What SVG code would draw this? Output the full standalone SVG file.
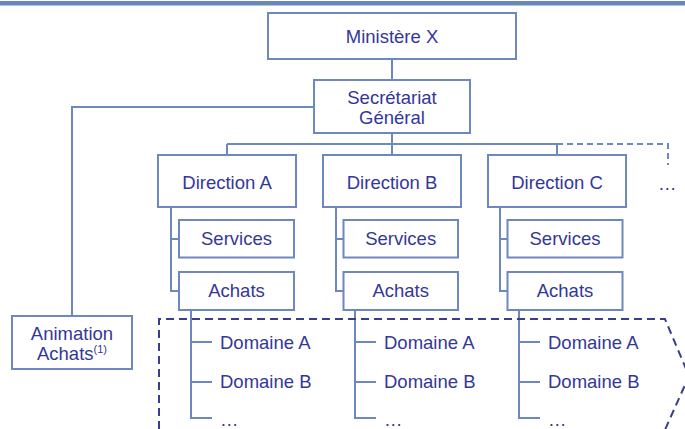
<svg xmlns="http://www.w3.org/2000/svg" width="685" height="429" viewBox="0 0 685 429">
<style>
.box{fill:#fff;stroke:#6D88BF;stroke-width:2}
.ln{fill:none;stroke:#6D88BF;stroke-width:2}
.dl{fill:none;stroke:#6D88BF;stroke-width:2;stroke-dasharray:6 4}
.enc{fill:none;stroke:#3A3D8E;stroke-width:2;stroke-dasharray:8 5}
text{font-family:"Liberation Sans",Arial,sans-serif;font-size:18.5px;fill:#34379A}
.c{text-anchor:middle}
</style>
<rect x="0" y="1" width="685" height="4.5" fill="#6A86BA"/>
<g id="connectors">
<path class="ln" d="M392 59V80M392 133V144M227 144H557M227 144V155M392 144V155M557 144V155"/>
<path class="dl" d="M557 144H668V165"/>
<path class="ln" d="M314 107H72V316"/>
<path class="ln" d="M171 207V291H179M171 239H179"/>
<path class="ln" d="M336 207V291H343.5M336 239H343.5"/>
<path class="ln" d="M500 207V291H507.5M500 239H507.5"/>
<path class="ln" d="M191 310V418H212M191 342H212M191 382H212"/>
<path class="ln" d="M355 310V418H376M355 342H376M355 382H376"/>
<path class="ln" d="M519 310V418H540M519 342H540M519 382H540"/>
<path class="enc" d="M159 429V319H665L689 376L664 432"/>
</g>
<g id="ministere"><rect class="box" x="268" y="13" width="248" height="46"/><text class="c" x="392" y="42.5">Ministère X</text></g>
<g id="sg"><rect class="box" x="314" y="80" width="156" height="53"/><text class="c" x="392" y="103.5">Secrétariat</text><text class="c" x="392" y="124">Général</text></g>
<g id="animation"><rect class="box" x="12" y="316" width="120" height="53"/><text class="c" x="72" y="340">Animation</text><text class="c" x="72" y="359.5">Achats<tspan font-size="11" dy="-7">(1)</tspan></text></g>
<g id="dirA"><rect class="box" x="158" y="155" width="138" height="52"/><text class="c" x="227" y="188.5">Direction A</text></g>
<g id="dirB"><rect class="box" x="323" y="155" width="138" height="52"/><text class="c" x="392" y="188.5">Direction B</text></g>
<g id="dirC"><rect class="box" x="488" y="155" width="138" height="52"/><text class="c" x="557" y="188.5">Direction C</text></g>
<g id="more"><text x="658" y="190">…</text></g>
<g id="servA"><rect class="box" x="179" y="220" width="115" height="37.5"/><text class="c" x="236.5" y="245">Services</text></g>
<g id="servB"><rect class="box" x="343.5" y="220" width="114.5" height="37.5"/><text class="c" x="400.7" y="245">Services</text></g>
<g id="servC"><rect class="box" x="507.5" y="220" width="115" height="37.5"/><text class="c" x="565" y="245">Services</text></g>
<g id="achA"><rect class="box" x="179" y="272" width="115" height="38"/><text class="c" x="236.5" y="297">Achats</text></g>
<g id="achB"><rect class="box" x="343.5" y="272" width="114.5" height="38"/><text class="c" x="400.7" y="297">Achats</text></g>
<g id="achC"><rect class="box" x="507.5" y="272" width="115" height="38"/><text class="c" x="565" y="297">Achats</text></g>
<g id="domA"><text x="220" y="349">Domaine A</text><text x="220" y="388">Domaine B</text><text x="220" y="426">…</text></g>
<g id="domB"><text x="384" y="349">Domaine A</text><text x="384" y="388">Domaine B</text><text x="384" y="426">…</text></g>
<g id="domC"><text x="548" y="349">Domaine A</text><text x="548" y="388">Domaine B</text><text x="548" y="426">…</text></g>
</svg>
